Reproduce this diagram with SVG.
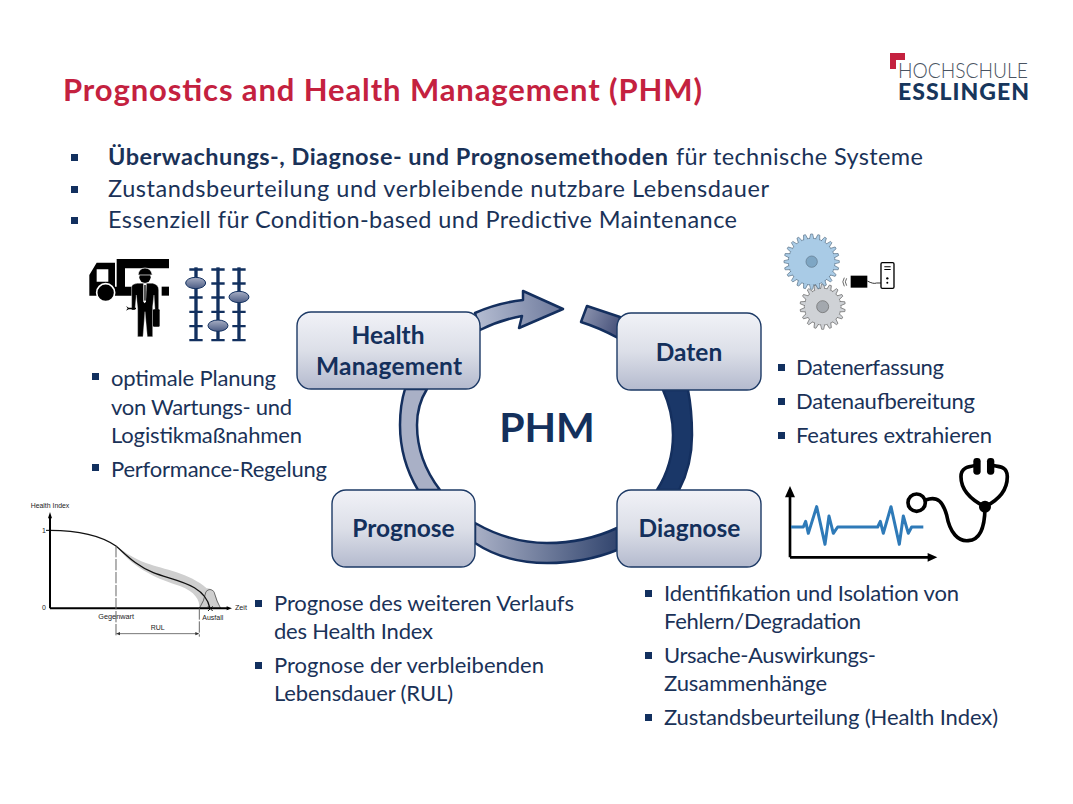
<svg xmlns="http://www.w3.org/2000/svg" width="1073" height="804" viewBox="0 0 1073 804">
<style>
text{font-family:"Lato","Carlito","Liberation Sans",sans-serif;fill:#1a3258}
.t{font-size:22px}
.i{font-size:23.500px}
.b{font-weight:700}
.n{font-size:24.500px;font-weight:700;fill:#14305c;text-anchor:middle}
.g{font-family:"Liberation Sans",sans-serif;font-size:21px;fill:#222}
.bl{fill:#12305f}
.node{fill:url(#ng);stroke:#1d3a66;stroke-width:1.4}
.ring{stroke:#142f5e;stroke-width:2.500;stroke-linejoin:round}
.tb{fill:#a9cbe6;stroke:#5d7488;stroke-width:2}
.tg{fill:#cfd2d6;stroke:#666;stroke-width:2}
</style>
<defs>
<linearGradient id="ng" x1="0" y1="0" x2="0" y2="1"><stop offset="0" stop-color="#f1f2f7"/><stop offset=".5" stop-color="#dcdfe8"/><stop offset="1" stop-color="#b4bace"/></linearGradient>
<linearGradient id="a1" gradientUnits="userSpaceOnUse" x1="476" y1="320" x2="560" y2="310"><stop offset="0" stop-color="#b5bdd2"/><stop offset="1" stop-color="#6f7b9d"/></linearGradient>
<linearGradient id="a2" gradientUnits="userSpaceOnUse" x1="585" y1="315" x2="620" y2="330"><stop offset="0" stop-color="#858daa"/><stop offset="1" stop-color="#444f78"/></linearGradient>
<linearGradient id="a4" gradientUnits="userSpaceOnUse" x1="475" y1="535" x2="617" y2="540"><stop offset="0" stop-color="#a9b0c6"/><stop offset="1" stop-color="#33466f"/></linearGradient>
<linearGradient id="sl" x1="0" y1="0" x2="0" y2="1"><stop offset="0" stop-color="#a8afc4"/><stop offset="1" stop-color="#4b5c84"/></linearGradient>
<path id="tb" class="tb" d="M-7-66L-3-83H3L7-66Z"/>
<path id="tg" class="tg" d="M-7-51L-3-68H3L7-51Z"/>
</defs>
<rect width="1073" height="804" fill="#fff"/>

<g id="title"><text x="63" y="101" font-size="31" font-weight="700" style="fill:#c4213f" textLength="639">Prognostics and Health Management (PHM)</text></g>

<g id="logo">
<path d="M890 53H905V60H896V69H890Z" fill="#c4213f"/>
<text x="898" y="78" font-size="21" style="fill:#4a5462;font-weight:300" textLength="130" lengthAdjust="spacingAndGlyphs">HOCHSCHULE</text>
<text x="898" y="100" font-size="23" font-weight="900" style="fill:#17365c" textLength="131">ESSLINGEN</text>
</g>

<g id="intro">
<rect class="bl" x="71" y="154" width="7" height="7"/><rect class="bl" x="71" y="186" width="7" height="7"/><rect class="bl" x="71" y="217" width="7" height="7"/>
<text class="i b" x="108" y="165" textLength="560">Überwachungs-, Diagnose- und Prognosemethoden</text>
<text class="i" x="676" y="165" textLength="247">für technische Systeme</text>
<text class="i" x="108" y="197" textLength="661">Zustandsbeurteilung und verbleibende nutzbare Lebensdauer</text>
<text class="i" x="108" y="228" textLength="629">Essenziell für Condition-based und Predictive Maintenance</text>
</g>

<g id="connectors">
<path class="ring" fill="url(#a1)" d="M475 313Q497 303 523 300L523 291L563 309L519 328L522 316Q500 320 480 330Z"/>
<path class="ring" fill="url(#a2)" d="M587 306Q605 312 620 317L618 338Q600 328 581 322Z"/>
<path class="ring" fill="#1a3768" d="M663 390Q673 412 673 435Q673 465 657 490L679 490Q692 465 692 435Q692 410 688 390Z"/>
<path class="ring" fill="url(#a4)" d="M475 523Q510 543 547 543Q585 543 617 528L617 550Q585 563 547 563Q505 563 475 543Z"/>
<path class="ring" fill="#a9b0c6" d="M418 490Q400 460 400 425Q400 405 405 389L427 389Q417 405 417 425Q417 460 440 490Z"/>
</g>

<g id="node-hm"><rect class="node" x="297" y="312" width="183" height="77" rx="14"/><text class="n" x="388" y="344">Health</text><text class="n" x="389" y="375" textLength="146">Management</text></g>
<g id="node-daten"><rect class="node" x="617" y="313" width="144" height="77" rx="14"/><text class="n" x="689" y="361">Daten</text></g>
<g id="node-prognose"><rect class="node" x="332" y="490" width="143" height="77" rx="14"/><text class="n" x="403.500" y="537">Prognose</text></g>
<g id="node-diagnose"><rect class="node" x="617" y="490" width="144" height="77" rx="14"/><text class="n" x="689.500" y="537">Diagnose</text></g>
<g id="center"><text x="547" y="442" font-size="41" font-weight="700" text-anchor="middle" style="fill:#14305c">PHM</text></g>

<g id="list-hm">
<rect class="bl" x="92" y="373" width="7" height="7"/><rect class="bl" x="92" y="464" width="7" height="7"/>
<text class="t" x="111" y="386" textLength="165">optimale Planung</text>
<text class="t" x="111" y="415" textLength="181">von Wartungs- und</text>
<text class="t" x="111" y="443" textLength="191">Logistikmaßnahmen</text>
<text class="t" x="111" y="477" textLength="216">Performance-Regelung</text>
</g>
<g id="list-daten">
<rect class="bl" x="778" y="364" width="7" height="7"/><rect class="bl" x="778" y="398" width="7" height="7"/><rect class="bl" x="778" y="432" width="7" height="7"/>
<text class="t" x="796" y="375" textLength="148">Datenerfassung</text>
<text class="t" x="796" y="409" textLength="179">Datenaufbereitung</text>
<text class="t" x="796" y="443" textLength="196">Features extrahieren</text>
</g>
<g id="list-prognose">
<rect class="bl" x="255" y="600" width="7" height="7"/><rect class="bl" x="255" y="662" width="7" height="7"/>
<text class="t" x="274" y="611" textLength="300">Prognose des weiteren Verlaufs</text>
<text class="t" x="274" y="639" textLength="159">des Health Index</text>
<text class="t" x="274" y="673" textLength="270">Prognose der verbleibenden</text>
<text class="t" x="274" y="701" textLength="179">Lebensdauer (RUL)</text>
</g>
<g id="list-diagnose">
<rect class="bl" x="645" y="590" width="7" height="7"/><rect class="bl" x="645" y="652" width="7" height="7"/><rect class="bl" x="645" y="714" width="7" height="7"/>
<text class="t" x="664" y="601" textLength="295">Identifikation und Isolation von</text>
<text class="t" x="664" y="629" textLength="197">Fehlern/Degradation</text>
<text class="t" x="664" y="663" textLength="212">Ursache-Auswirkungs-</text>
<text class="t" x="664" y="691" textLength="163">Zusammenhänge</text>
<text class="t" x="664" y="725" textLength="334">Zustandsbeurteilung (Health Index)</text>
</g>

<g id="icon-truck" transform="translate(60 240) scale(.3333)">
<path d="M170 57H327V85H195V140H215V167H165V68H110L88 105V167H165V140H170Z M110 88V125H145V88Z" fill-rule="evenodd"/>
<rect x="305" y="140" width="22" height="27"/>
<circle cx="137" cy="158" r="27" fill="#000" stroke="#fff" stroke-width="5"/>
<circle cx="255" cy="112" r="17"/>
<path d="M234 105Q237 84 255 84Q273 84 277 105Z" stroke="#fff" stroke-width="2"/>
<path d="M215 140Q216 132 232 130L278 130Q296 134 296 150V210H285L282 165L278 200V290H262L255 215L249 290H233V205L229 165L225 210H215Z" stroke="#fff" stroke-width="1"/>
<path d="M250 130H260L258 185L254 190L250 185Z" fill="#fff"/>
<path d="M253 135H257L257 180L255 184L253 180Z"/>
<rect x="279" y="208" width="20" height="52" rx="3"/>
<path d="M198 198L206 203L228 203V208L206 208L198 212L203 205Z"/>
</g>
<g id="icon-sliders" transform="translate(60 240) scale(.3333)" fill="#12305f">
<rect x="403" y="82" width="10" height="220"/><rect x="469" y="82" width="10" height="220"/><rect x="532" y="82" width="10" height="220"/>
<path d="M388 85h40v7h-40zM388 127h40v7h-40zM388 169h40v7h-40zM388 212h40v7h-40zM388 255h40v7h-40zM388 297h40v7h-40z"/>
<path d="M454 85h40v7h-40zM454 127h40v7h-40zM454 169h40v7h-40zM454 212h40v7h-40zM454 255h40v7h-40zM454 297h40v7h-40z"/>
<path d="M517 85h40v7h-40zM517 127h40v7h-40zM517 169h40v7h-40zM517 212h40v7h-40zM517 255h40v7h-40zM517 297h40v7h-40z"/>
<ellipse cx="407" cy="129" rx="30" ry="17" fill="url(#sl)" stroke="#12305f" stroke-width="3"/>
<ellipse cx="474" cy="257" rx="30" ry="17" fill="url(#sl)" stroke="#12305f" stroke-width="3"/>
<ellipse cx="537" cy="171" rx="30" ry="17" fill="url(#sl)" stroke="#12305f" stroke-width="3"/>
</g>

<g id="icon-gears" transform="translate(770 225) scale(.3333)">
<g transform="translate(158 245)">
<circle r="55" class="tg"/>
<use href="#tg"/><use href="#tg" transform="rotate(20)"/><use href="#tg" transform="rotate(40)"/><use href="#tg" transform="rotate(60)"/><use href="#tg" transform="rotate(80)"/><use href="#tg" transform="rotate(100)"/><use href="#tg" transform="rotate(120)"/><use href="#tg" transform="rotate(140)"/><use href="#tg" transform="rotate(160)"/><use href="#tg" transform="rotate(180)"/><use href="#tg" transform="rotate(200)"/><use href="#tg" transform="rotate(220)"/><use href="#tg" transform="rotate(240)"/><use href="#tg" transform="rotate(260)"/><use href="#tg" transform="rotate(280)"/><use href="#tg" transform="rotate(300)"/><use href="#tg" transform="rotate(320)"/><use href="#tg" transform="rotate(340)"/>
<circle r="53.500" fill="#cfd2d6"/>
<circle r="18" fill="#a3a8ae" stroke="#666" stroke-width="2"/>
</g>
<g transform="translate(125 110)">
<circle r="70" class="tb"/>
<use href="#tb"/><use href="#tb" transform="rotate(15)"/><use href="#tb" transform="rotate(30)"/><use href="#tb" transform="rotate(45)"/><use href="#tb" transform="rotate(60)"/><use href="#tb" transform="rotate(75)"/><use href="#tb" transform="rotate(90)"/><use href="#tb" transform="rotate(105)"/><use href="#tb" transform="rotate(120)"/><use href="#tb" transform="rotate(135)"/><use href="#tb" transform="rotate(150)"/><use href="#tb" transform="rotate(165)"/><use href="#tb" transform="rotate(180)"/><use href="#tb" transform="rotate(195)"/><use href="#tb" transform="rotate(210)"/><use href="#tb" transform="rotate(225)"/><use href="#tb" transform="rotate(240)"/><use href="#tb" transform="rotate(255)"/><use href="#tb" transform="rotate(270)"/><use href="#tb" transform="rotate(285)"/><use href="#tb" transform="rotate(300)"/><use href="#tb" transform="rotate(315)"/><use href="#tb" transform="rotate(330)"/><use href="#tb" transform="rotate(345)"/>
<circle r="68.500" fill="#a9cbe6"/>
<circle r="17" fill="#7ea6c4" stroke="#5d7488" stroke-width="2"/>
</g>
<path d="M223 158Q214 170 223 184M230 160Q222 170 230 182" fill="none" stroke="#666" stroke-width="3"/>
<rect x="242" y="152" width="50" height="36"/>
<path d="M292 168Q310 178 320 174H333" fill="none" stroke="#333" stroke-width="3"/>
<rect x="333" y="113" width="39" height="77" rx="4" fill="#fff" stroke="#000" stroke-width="4"/>
<path d="M343 124h19v3h-19zM343 132h19v3h-19z"/>
<circle cx="352" cy="160" r="3.500"/><circle cx="352" cy="173" r="3"/>
</g>

<g id="chart-health" transform="translate(20 490) scale(.3333)">
<path d="M288 168C320 190 340 205 380 220C430 238 510 250 560 295C585 292 590 330 602 355H538C540 330 525 305 480 288C420 268 350 245 288 168Z" fill="#cfcfcf"/>
<path d="M538 355Q552 335 558 305Q570 292 582 305Q590 335 602 355" fill="none" stroke="#333" stroke-width="2"/>
<path d="M90 121C170 121 240 135 288 168C320 195 345 225 400 248C460 272 555 280 570 355" fill="none" stroke="#111" stroke-width="4"/>
<path d="M90 355V80M90 355H625" fill="none" stroke="#000" stroke-width="6"/>
<path d="M90 66L96 85H84ZM636 355L620 349V361Z"/>
<path d="M78 121H90" stroke="#000" stroke-width="3"/>
<path d="M288 168V440M538 355V440" stroke="#666" stroke-width="3" stroke-dasharray="34 5" fill="none"/>
<path d="M296 431H530" stroke="#333" stroke-width="2"/>
<path d="M288 431L300 426V436ZM538 431L526 426V436Z" fill="#333"/>
<path d="M564 349L578 363M578 349L564 363" stroke="#111" stroke-width="3"/>
<text class="g" x="32" y="55" textLength="116" lengthAdjust="spacingAndGlyphs">Health Index</text>
<text class="g" x="66" y="128">1</text>
<text class="g" x="66" y="360">0</text>
<text class="g" x="235" y="386" textLength="107" lengthAdjust="spacingAndGlyphs">Gegenwart</text>
<text class="g" x="547" y="389" textLength="63" lengthAdjust="spacingAndGlyphs">Ausfall</text>
<text class="g" x="392" y="420" textLength="42" lengthAdjust="spacingAndGlyphs">RUL</text>
<text class="g" x="645" y="360" textLength="36" lengthAdjust="spacingAndGlyphs">Zeit</text>
</g>

<g id="chart-stethoscope" transform="translate(775 450) scale(.3333)">
<path d="M45 322V135M45 322H465" fill="none" stroke="#000" stroke-width="8"/>
<path d="M45 108L60 142H30ZM487 322L458 309V335Z"/>
<path d="M48 231H85L92 214L100 250L125 170L150 283L162 198L175 250L188 231H308L316 214L325 250L348 170L373 283L385 198L400 250L410 231H445" fill="none" stroke="#2e7ab8" stroke-width="9" stroke-linejoin="round"/>
<circle cx="425" cy="158" r="26" fill="#fff" stroke="#000" stroke-width="11"/>
<path d="M452 150C490 135 505 160 515 195C525 250 550 275 580 272C620 270 630 220 630 170M630 170C590 150 558 120 558 80C558 52 580 50 605 46M630 170C670 150 697 120 697 80C697 52 680 50 650 46" fill="none" stroke="#000" stroke-width="11"/>
<circle cx="630" cy="170" r="18"/>
<rect x="595" y="24" width="22" height="50" rx="10"/><rect x="636" y="24" width="22" height="50" rx="10"/>
</g>
</svg>
